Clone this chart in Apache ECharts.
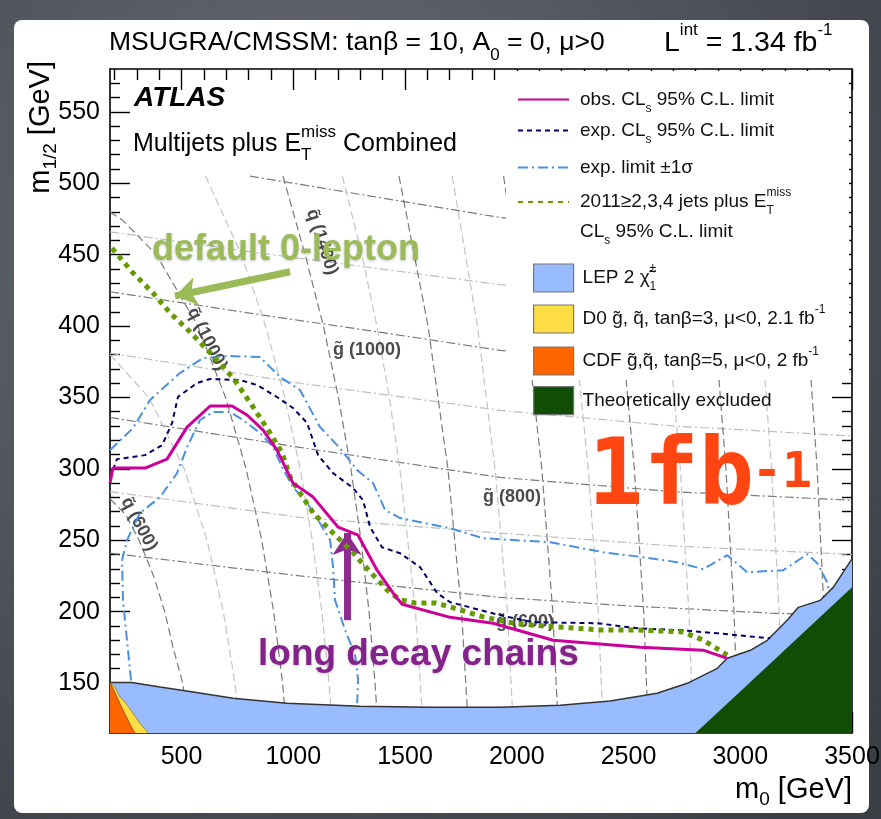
<!DOCTYPE html>
<html><head><meta charset="utf-8">
<script src="https://cdn.jsdelivr.net/npm/echarts@6.0.0/dist/echarts.min.js"></script>
<style>html,body{margin:0;padding:0;background:#4d5159}#c{width:881px;height:819px}</style>
</head><body><div id="c"></div>
<script>
const FONT = "'Liberation Sans', Arial, Helvetica, sans-serif";
const xMin = 180, xMax = 3500, yMin = 115, yMax = 580;
const xMajorTicks = [500, 1000, 1500, 2000, 2500, 3000, 3500];
const xMinorTicks = [200, 300, 400, 600, 700, 800, 900, 1100, 1200, 1300, 1400, 1600, 1700, 1800, 1900, 2100, 2200, 2300, 2400, 2600, 2700, 2800, 2900, 3100, 3200, 3300, 3400];
const yMajorTicks = [150, 200, 250, 300, 350, 400, 450, 500, 550];
const yMinorTicks = [120, 130, 140, 160, 170, 180, 190, 210, 220, 230, 240, 260, 270, 280, 290, 310, 320, 330, 340, 360, 370, 380, 390, 410, 420, 430, 440, 460, 470, 480, 490, 510, 520, 530, 540, 560, 570];

// exclusion limits (m0, m1/2)
const obsLimit = [[180,290],[193,300.5],[337,300.5],[435,306.8],[525,329.2],[628,344],[726,344],[793,337.7],[865,327.1],[927,313.1],[999,290],[1089,280.2],[1201,259.1],[1290,253.5],[1375,229],[1447,212.9],[1487,205.2],[1702,196],[1894,191.9],[2163,180],[2552,175],[2834,173],[2942,167.3]];
const expLimit = [[180,293.5],[211,306.8],[337,309.6],[413,316.6],[458,332.1],[484,350.3],[569,360.1],[628,362.9],[762,362.2],[838,358.7],[927,350.3],[999,342.6],[1062,332.1],[1111,309.6],[1178,297],[1268,286.5],[1312,278.1],[1344,259.1],[1397,245.1],[1478,240.9],[1568,231.1],[1644,212.9],[1702,206.6],[1926,197.5],[2073,192.6],[2360,191.9],[2539,188.3],[2745,186.9],[2897,184.8],[3134,181.3]];
const expPlus1s = [[180,313.1],[283,328.5],[359,348.2],[493,367.1],[596,377.6],[704,379],[851,378.3],[941,364.3],[1030,355.2],[1120,329.2],[1209,314.5],[1286,299.1],[1357,290],[1411,271.1],[1478,265.5],[1702,258.4],[1850,251.4],[2149,248.6],[2387,241.6],[2566,238.1],[2718,234.6],[2834,229.7],[2942,239.5],[3031,227.6],[3192,229],[3300,240.2],[3345,233.9],[3389,220.6],[3398,213.6]];
const expMinus1s = [[274,151.9],[238,208],[234,236],[256,250],[314,269],[404,280.2],[480,297],[525,315.2],[583,334.2],[641,339.8],[717,339.8],[775,334.2],[851,325.1],[910,315.2],[950,301.2],[999,287.2],[1062,276],[1111,264.1],[1165,250],[1178,231.1],[1187,208],[1232,187],[1277,169.5],[1290,152],[1286,135.9]];
const limit2011 = [[189,454.5],[283,437.2],[372,423.2],[449,409.2],[538,395.9],[628,381.2],[731,363.6],[820,343.3],[896,325.1],[950,311.1],[986,294.3],[1030,283.1],[1089,269.1],[1178,255.1],[1268,241.1],[1344,227.8],[1420,215.2],[1478,208.2],[1545,206.1],[1635,206.1],[1702,203.3],[1850,196.3],[2002,191.4],[2181,189.3],[2373,187.2],[2539,187.2],[2745,185.7],[2834,180.1],[2942,169.6]];
// excluded regions (upper boundaries)
const lepBoundary = [[180,150.3],[277,150.3],[404,147.2],[552,143.7],[731,139.3],[972,135.8],[1299,133.7],[1612,133],[1926,133],[2194,134.4],[2418,137.4],[2628,142.8],[2763,149.8],[2897,160.3],[2942,167.3],[3045,172.9],[3121,179.9],[3210,193.9],[3260,203],[3358,207.9],[3416,217],[3500,237]];
const d0Boundary = [[180,150.3],[202,147.2],[225,140.2],[247,136.7],[314,121.8],[351,115]];
const cdfBoundary = [[180,150.3],[198,144.7],[232,133],[277,118.9],[292,115]];
const theoExclBoundary = [[2800,115],[3000,144],[3500,217]];
// iso-mass contours: gluino (dash-dot), squark (dashed)
const gluino600 = [[180,241],[1030,225],[1925,210],[2500,204],[3134,199],[3500,197]];
const gluino700 = [[180,284],[1030,266],[1925,255],[2700,246],[3500,240]];
const gluino800 = [[180,336],[1030,315],[1925,294],[2700,284],[3500,278]];
const gluino900 = [[180,381],[1030,360],[1925,341],[2700,330],[3500,323]];
const gluino1000 = [[180,424],[806,409],[1330,397],[1925,383],[2700,372],[3500,367]];
const gluino1100 = [[180,466],[806,452],[1925,429],[2700,420],[3500,415]];
const gluino1200 = [[806,505],[1925,476],[2700,466],[3500,460]];
const squark600 = [[180,279],[250,268],[310,250],[375,225],[425,200],[462,175],[505,150],[540,115]];
const squark800 = [[180,380],[354,350],[512,300],[614,250],[687,200],[739,150],[764,115]];
const squark1000 = [[180,480],[237,474],[387,450],[573,400],[697,350],[789,300],[859,250],[912,200],[952,150],[972,115]];
const squark1200 = [[607,505],[768,450],[876,400],[962,350],[1031,300],[1085,250],[1128,200],[1160,150],[1177,115]];
const squark1400 = [[954,505],[1053,450],[1135,400],[1202,350],[1258,300],[1303,250],[1339,200],[1366,150],[1380,115]];
const squark1600 = [[1220,505],[1307,450],[1374,400],[1430,350],[1477,300],[1547,200],[1583,115]];
const squark1800 = [[1473,505],[1603,400],[1692,300],[1753,200],[1785,115]];
const squark2000 = [[1711,505],[1824,400],[1903,300],[1958,200],[1986,115]];
const squark2200 = [[1941,505],[2042,400],[2112,300],[2161,200],[2187,115]];
const squark2400 = [[2165,505],[2256,400],[2320,300],[2365,200],[2388,115]];
const squark2600 = [[2385,505],[2467,400],[2526,300],[2568,200],[2589,115]];
const squark2800 = [[2602,505],[2677,400],[2732,300],[2770,200],[2790,115]];
const squark3000 = [[2816,505],[2886,400],[2936,300],[2972,200],[2991,115]];
const squark3200 = [[3028,505],[3093,400],[3140,300],[3174,200],[3191,115]];
const squark3400 = [[3239,505],[3300,400],[3344,300],[3375,200],[3392,115]];
const darkGluino = [gluino600, gluino800, gluino1000, gluino1200];
const lightGluino = [gluino700, gluino900, gluino1100];
const darkSquark = [squark600, squark1000, squark1400, squark1800, squark2200, squark2600, squark3000, squark3400];
const lightSquark = [squark800, squark1200, squark1600, squark2000, squark2400, squark2800, squark3200];
// annotation arrows
const greenArrow = [[986,438],[471,421]];
const purpleArrow = [[1241,194],[1241,255]];

const N_OBS = 'obs', N_EXP = 'exp', N_BAND = 'band', N_2011 = 'y2011', N_LEP = 'LEP', N_D0 = 'D0', N_CDF = 'CDF', N_TH = 'TH';
const legendText = {
  obs: '{w|}{n|obs. CL}{sb|s}{n| 95% C.L. limit}',
  exp: '{w|}{n|exp. CL}{sb|s}{n| 95% C.L. limit}',
  band: '{w|}{n|exp. limit ±1σ}',
  y2011: '{g|}\n{w|}{n|2011≥2,3,4 jets plus E}{sb0|T}{sp|miss}\n{w|}{n|CL}{sb|s}{n| 95% C.L. limit}',
  LEP: '{w2|}{n|LEP 2 χ̃}{sb0|1}{sp|±}',
  D0: '{w2|}{n|D0 g̃, q̃, tanβ=3, μ<0, 2.1 fb}{sp|-1}',
  CDF: '{w2|}{n|CDF g̃,q̃, tanβ=5, μ<0, 2 fb}{sp|-1}',
  TH: '{w2|}{n|Theoretically excluded}'
};
const legRich = {
  n: {fontFamily: FONT, fontSize: 19, color: '#111', lineHeight: 30},
  sb: {fontFamily: FONT, fontSize: 12, color: '#111', lineHeight: 12, verticalAlign: 'bottom'},
  sb0: {fontFamily: FONT, fontSize: 12, color: '#111', lineHeight: 12, verticalAlign: 'bottom', width: 0},
  sp: {fontFamily: FONT, fontSize: 12, color: '#111', lineHeight: 12, verticalAlign: 'top'},
  w: {width: 6}, w2: {width: 4},
  g: {lineHeight: 30, fontSize: 10}
};
function lineLegend(name, top) {
  return {data: [name], left: 517, top: top, z: 10, orient: 'vertical', padding: 0, itemWidth: 51, itemHeight: 14,
    itemStyle: {color: 'rgba(0,0,0,0)', borderWidth: 0},
    textStyle: {fontFamily: FONT, fontSize: 19, rich: legRich}, formatter: n => legendText[n]};
}
function boxLegend(name, top) {
  return {data: [name], left: 533, top: top, z: 10, orient: 'vertical', padding: 0, itemWidth: 40, itemHeight: 28, icon: 'rect',
    itemStyle: {borderColor: '#777', borderWidth: 1.2},
    textStyle: {fontFamily: FONT, fontSize: 19, rich: legRich}, formatter: n => legendText[n]};
}

function axisX(gridIndex, pos, ticks, len, labels) {
  return {type: 'value', gridIndex: gridIndex, position: pos, min: xMin, max: xMax,
    axisLine: {show: gridIndex === 0, onZero: false, lineStyle: {color: '#000', width: 1.6}},
    axisTick: {show: true, inside: true, length: len, customValues: ticks, lineStyle: {color: '#000', width: 1.4}},
    axisLabel: labels ? {show: true, customValues: ticks, formatter: v => String(v), fontFamily: FONT, fontSize: 25, color: '#000', margin: 12} : {show: false},
    splitLine: {show: false},
    name: labels ? '{m|m}{s|0}{m| [GeV]}' : '', nameLocation: 'end', nameGap: 0,
    nameTextStyle: {align: 'right', verticalAlign: 'top', padding: [38, 0, 0, 0],
      rich: {m: {fontFamily: FONT, fontSize: 29, color: '#000', lineHeight: 38}, s: {fontFamily: FONT, fontSize: 19, color: '#000', lineHeight: 19, verticalAlign: 'bottom'}}}};
}
function axisY(gridIndex, pos, ticks, len, labels) {
  return {type: 'value', gridIndex: gridIndex, position: pos, min: yMin, max: yMax,
    axisLine: {show: gridIndex === 0, onZero: false, lineStyle: {color: '#000', width: 1.6}},
    axisTick: {show: true, inside: true, length: len, customValues: ticks, lineStyle: {color: '#000', width: 1.4}},
    axisLabel: labels ? {show: true, customValues: ticks, formatter: v => String(v), fontFamily: FONT, fontSize: 25, color: '#000', margin: 10} : {show: false},
    splitLine: {show: false}};
}

function curve(name, data, color, width, dash, z) {
  return {type: 'line', name: name, data: data, symbol: 'none', smooth: false, z: z, silent: true,
    itemStyle: {color: color}, lineStyle: {color: color, width: width, type: dash}};
}
function region(name, data, fill, edge, edgeW, z) {
  return {type: 'line', name: name, data: data, symbol: 'none', z: z, silent: true,
    itemStyle: {color: fill}, lineStyle: {color: edge, width: edgeW},
    areaStyle: {color: fill, opacity: 1, origin: 'start'}};
}
function iso(data, color, dash) {
  return {type: 'line', data: data, symbol: 'none', z: 1, silent: true, legendHoverLink: false,
    lineStyle: {color: color, width: 1.2, type: dash}};
}

const isoSeries = [].concat(
  darkGluino.map(d => iso(d, '#7a7a7a', [9, 3, 2, 3])),
  lightGluino.map(d => iso(d, '#bdbdbd', [9, 3, 2, 3])),
  darkSquark.map(d => iso(d, '#7a7a7a', [8, 4])),
  lightSquark.map(d => iso(d, '#c4c4c4', [8, 4]))
);

const gridRect = {left: 110, right: 29, top: 69, bottom: 86, containLabel: false, outerBoundsMode: 'none'};
const isoLabel = (txt, x, y, rotDeg) => ({type: 'text', z: 3, silent: true, x: x, y: y, rotation: rotDeg * Math.PI / 180,
  style: {text: txt, fontFamily: FONT, fontSize: 18, fontWeight: 'bold', fill: '#4a4a4a', align: 'center', verticalAlign: 'middle'}});
const MONO = "'DejaVu Sans Mono', monospace";
const option = {
  animation: false,
  backgroundColor: {type: 'radial', x: 0.35, y: 0.3, r: 0.9, colorStops: [{offset: 0, color: '#6b6f78'}, {offset: 1, color: '#3b3e45'}]},
  title: [{
    text: '{m|MSUGRA/CMSSM: tanβ = 10, A}{s|0}{m| = 0, μ>0}',
    left: 109, top: 22, padding: 0,
    textStyle: {fontWeight: 'normal', rich: {
      m: {fontFamily: FONT, fontSize: 26.5, fontWeight: 'normal', color: '#000', lineHeight: 42},
      s: {fontFamily: FONT, fontSize: 17, fontWeight: 'normal', color: '#000', lineHeight: 17, verticalAlign: 'bottom'}}}
  }, {
    text: '{m|L}{p|int}{m| = 1.34 fb}{p|-1}',
    left: 664, top: 22, padding: 0,
    textStyle: {fontWeight: 'normal', rich: {
      m: {fontFamily: FONT, fontSize: 28.5, fontWeight: 'normal', color: '#000', lineHeight: 42},
      p: {fontFamily: FONT, fontSize: 17, fontWeight: 'normal', color: '#000', lineHeight: 17, verticalAlign: 'top'}}}
  }],
  grid: [Object.assign({}, gridRect), Object.assign({}, gridRect)],
  xAxis: [axisX(0, 'bottom', xMajorTicks, 21, true), axisX(0, 'top', xMajorTicks, 21, false),
          axisX(1, 'bottom', xMinorTicks, 11, false), axisX(1, 'top', xMinorTicks, 11, false)],
  yAxis: [axisY(0, 'left', yMajorTicks, 20, true), axisY(0, 'right', yMajorTicks, 20, false),
          axisY(1, 'left', yMinorTicks, 10, false), axisY(1, 'right', yMinorTicks, 10, false)],
  legend: [lineLegend(N_OBS, 90), lineLegend(N_EXP, 121), lineLegend(N_BAND, 158), lineLegend(N_2011, 167),
           boxLegend(N_LEP, 263), boxLegend(N_D0, 304), boxLegend(N_CDF, 346), boxLegend(N_TH, 386)],
  graphic: [
    {type: 'rect', z: -10, silent: true, shape: {x: 14, y: 20, width: 855, height: 793, r: 8}, style: {fill: '#ffffff'}},
    {type: 'rect', z: 2, silent: true, shape: {x: 506, y: 71, width: 343, height: 309}, style: {fill: '#ffffff'}},
    {type: 'text', z: 100, silent: true, x: 41, y: 61, rotation: Math.PI / 2, style: {text: '{m|m}{s|1/2}{m| [GeV]}', align: 'right', verticalAlign: 'middle',
      rich: {m: {fontFamily: FONT, fontSize: 29, fill: '#000', lineHeight: 38}, s: {fontFamily: FONT, fontSize: 19, fill: '#000', lineHeight: 19, verticalAlign: 'bottom'}}}},
    {type: 'text', z: 100, silent: true, x: 134, y: 98, style: {text: 'ATLAS', fontFamily: FONT, fontSize: 28, fontWeight: 'bold', fontStyle: 'italic', fill: '#000', verticalAlign: 'middle'}},
    {type: 'text', z: 100, silent: true, x: 133, y: 144, style: {text: '{m|Multijets plus E}{sb|T}{sp|miss}{m| Combined}', verticalAlign: 'middle',
      rich: {m: {fontFamily: FONT, fontSize: 25, fill: '#000', lineHeight: 40}, sb: {fontFamily: FONT, fontSize: 17, fill: '#000', lineHeight: 17, verticalAlign: 'bottom', width: 0}, sp: {fontFamily: FONT, fontSize: 17, fill: '#000', lineHeight: 17, verticalAlign: 'top'}}}},
    isoLabel('q̃ (600)', 139, 524, -62),
    isoLabel('q̃ (1000)', 207, 339, -63),
    isoLabel('q̃ (1400)', 322, 242, -72),
    isoLabel('g̃ (1000)', 367, 350, 0),
    isoLabel('g̃ (800)', 512, 497, 0),
    isoLabel('g̃ (600)', 525, 622, 0),
    {type: 'text', z: 100, silent: true, x: 152, y: 250, style: {text: 'default 0-lepton', fontFamily: FONT, fontSize: 36, fontWeight: 'bold', fill: '#9bbb59', verticalAlign: 'middle', textShadowColor: 'rgba(0,0,0,0.25)', textShadowBlur: 3, textShadowOffsetY: 1}},
    {type: 'text', z: 100, silent: true, x: 258, y: 655, style: {text: 'long decay chains', fontFamily: FONT, fontSize: 37, fontWeight: 'bold', fill: '#84218a', verticalAlign: 'middle', textShadowColor: 'rgba(0,0,0,0.2)', textShadowBlur: 3, textShadowOffsetY: 1}},
    {type: 'text', z: 100, silent: true, x: 588, y: 480, style: {text: '1fb', fontFamily: MONO, fontSize: 92, fontWeight: 'bold', fill: '#ff4511', verticalAlign: 'middle'}},
    {type: 'text', z: 100, silent: true, x: 752, y: 474, style: {text: '-1', fontFamily: MONO, fontSize: 50, fontWeight: 'bold', fill: '#ff4511', verticalAlign: 'middle'}}
  ],
  series: isoSeries.concat([
    region(N_LEP, lepBoundary, '#99bbff', '#333333', 1.5, 3),
    region(N_D0, d0Boundary, '#ffdd44', '#8a7a30', 0.8, 4),
    region(N_CDF, cdfBoundary, '#ff6600', '#7a4a20', 0.8, 5),
    region(N_TH, theoExclBoundary, '#124d05', '#124d05', 0, 4),
    curve(N_BAND, expPlus1s, '#4a90e2', 2, [10, 4, 2, 4], 6),
    curve(N_BAND, expMinus1s, '#4a90e2', 2, [10, 4, 2, 4], 6),
    curve(N_EXP, expLimit, '#000066', 2, [5, 4], 7),
    curve(N_2011, limit2011, '#669a00', 5, [5, 5], 8),
    curve(N_OBS, obsLimit, '#cc0099', 3, 'solid', 9),
    {type: 'scatter', data: [], z: 20, silent: true,
      markLine: {silent: true, animation: false, symbol: ['none', 'arrow'], symbolSize: [22, 22], label: {show: false},
        data: [
          [{coord: greenArrow[0], lineStyle: {color: '#9bbb59', width: 7, type: 'solid'}}, {coord: greenArrow[1]}],
          [{coord: purpleArrow[0], lineStyle: {color: '#8e2b8e', width: 7, type: 'solid'}}, {coord: purpleArrow[1]}]
        ]}}
  ])
};
const chart = echarts.init(document.getElementById('c'), null, {renderer: 'canvas'});
chart.setOption(option);
</script></body></html>
